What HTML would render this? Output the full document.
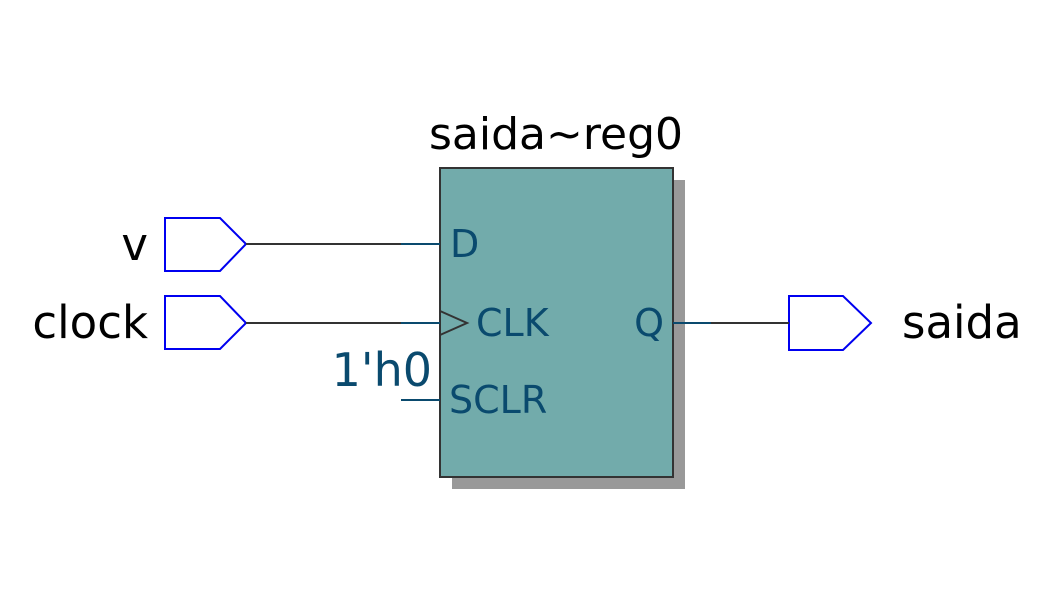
<!DOCTYPE html>
<html><head><style>body{margin:0;background:#fff}</style></head><body>
<svg width="1046" height="605" xmlns="http://www.w3.org/2000/svg" font-family="'DejaVu Sans','Liberation Sans',sans-serif">
<rect width="1046" height="605" fill="#fff"/>
<rect x="452" y="180" width="233" height="309" fill="#999"/>
<rect x="440" y="168" width="233" height="309" fill="#72abab" stroke="#333" stroke-width="2"/>
<text x="556" y="149" font-size="44" text-anchor="middle" fill="#000">saida~reg0</text>
<polygon points="165,218 220,218 246,244 220,271 165,271" fill="#fff" stroke="#0000f0" stroke-width="2"/>
<polygon points="165,296 220,296 246,323 220,349 165,349" fill="#fff" stroke="#0000f0" stroke-width="2"/>
<polygon points="789,296 843,296 871,323 843,350 789,350" fill="#fff" stroke="#0000f0" stroke-width="2"/>
<line x1="246" y1="244" x2="401" y2="244" stroke="#333" stroke-width="2"/>
<line x1="401" y1="244" x2="440" y2="244" stroke="#0a4a6e" stroke-width="2"/>
<line x1="246" y1="323" x2="401" y2="323" stroke="#333" stroke-width="2"/>
<line x1="401" y1="323" x2="440" y2="323" stroke="#0a4a6e" stroke-width="2"/>
<line x1="401" y1="400" x2="440" y2="400" stroke="#0a4a6e" stroke-width="2"/>
<line x1="673" y1="323" x2="711" y2="323" stroke="#0a4a6e" stroke-width="2"/>
<line x1="711" y1="323" x2="789" y2="323" stroke="#333" stroke-width="2"/>
<polyline points="440,311 467,323 440,335" fill="none" stroke="#333" stroke-width="2"/>
<g fill="#0a4a6e" font-size="38">
<text x="450" y="257">D</text>
<text x="476" y="336">CLK</text>
<text x="449" y="413">SCLR</text>
<text x="664" y="336" text-anchor="end">Q</text>
<text x="432" y="386" font-size="46" text-anchor="end">1'h0</text>
</g>
<g fill="#000" font-size="45">
<text x="148" y="260" text-anchor="end">v</text>
<text x="148" y="338" text-anchor="end">clock</text>
<text x="902" y="338">saida</text>
</g>
</svg>
</body></html>
